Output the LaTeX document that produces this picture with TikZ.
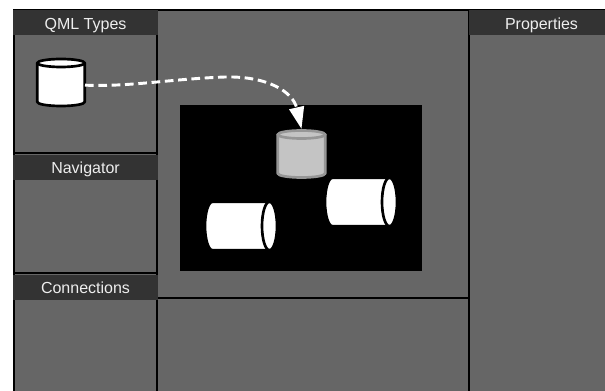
\documentclass[tikz,border=0pt]{standalone}
\usepackage{fontspec}
\setmainfont{Liberation Sans}
\usetikzlibrary{arrows.meta}
\definecolor{panel}{HTML}{666666}
\definecolor{head}{HTML}{333333}
\definecolor{graybody}{HTML}{C4C4C4}
\definecolor{grayline}{HTML}{969696}
\definecolor{labeltxt}{HTML}{EEEEEE}
\tikzset{
  panelbox/.style={draw=black,line width=1.5pt,fill=panel},
  headbox/.style={fill=head,text=labeltxt,inner sep=0pt,outer sep=0pt,font=\fontsize{12pt}{14pt}\selectfont,anchor=north west,minimum width=108.75pt,minimum height=18.75pt,text height=11pt,text depth=1.6pt},
  cylstroke/.style={line width=2pt,line join=round},
  dragline/.style={draw=white,line width=2.2pt,dash pattern=on 6.5pt off 3.5pt,-{Triangle[length=16.5pt,width=11pt,fill=white,color=white]}}
}
% vertical cylinder: name, cx, cy (middle), fill, stroke
\newcommand{\upcyl}[5]{%
  \node[inner sep=0pt,outer sep=0pt,minimum width=36pt,minimum height=37.5pt] (#1) at (#2,#3) {};
  \begin{scope}[shift={(#2,#3)}]
    \draw[cylstroke,fill=#4,draw=#5] (-23.7,-19.5) -- (-23.7,19.5) arc[start angle=180,end angle=0,x radius=23.7,y radius=4] -- (23.7,-19.5) -- cycle;
    \draw[cylstroke,fill=#4,draw=#5] (0,-19.5) ellipse[x radius=23.7,y radius=4];
  \end{scope}}
% horizontal cylinder: name, cx, cy
\newcommand{\sidecyl}[3]{%
  \node[inner sep=0pt,outer sep=0pt,minimum width=52.5pt,minimum height=36pt] (#1) at (#2,#3) {};
  \begin{scope}[shift={(#2,#3)}]
    \draw[cylstroke,fill=white,draw=black] (-28.5,-24.2) -- (28.5,-24.2) -- (28.5,24.2) -- (-28.5,24.2) arc[start angle=90,end angle=270,x radius=7.5,y radius=24.2] -- cycle;
    \draw[cylstroke,fill=white,draw=black] (28.5,0) ellipse[x radius=7.5,y radius=24.2];
  \end{scope}}
\begin{document}
\begin{tikzpicture}[x=0.75pt,y=-0.75pt]
\useasboundingbox (0,0) rectangle (605,391);
\fill[white] (0,0) rectangle (605,391);
\clip (0,0) rectangle (605,391);
% panels
\draw[panelbox] (157,10) rectangle (469,298);
\draw[panelbox] (157,298) rectangle (469,400);
\draw[panelbox] (14,10) rectangle (157,153);
\draw[panelbox] (14,153) rectangle (157,273);
\draw[panelbox] (14,273) rectangle (157,400);
\draw[panelbox] (469,10) rectangle (620,400);
% headers
\node[headbox] (qml) at (13,10.5) {QML Types};
\node[headbox] (nav) at (13,155) {Navigator};
\node[headbox] (con) at (13,275) {Connections};
\node[headbox] (prop) at (469,10.5) {Properties};
% canvas
\node[fill=black,inner sep=0pt,outer sep=0pt,minimum width=181.5pt,minimum height=124.5pt,anchor=north west] (canvas) at (180,105) {};
% cylinders
\upcyl{src}{61}{82.5}{white}{black}
\upcyl{ghost}{301.5}{154}{graybody}{grayline}
\sidecyl{c1}{241}{226}
\sidecyl{c2}{361}{202}
% connector
\draw[dragline] ([yshift=-2pt]src.east) .. controls (130,87) and (170,79) .. (225,77) .. controls (268,76) and (293,92) .. (ghost.north);
\end{tikzpicture}
\end{document}
